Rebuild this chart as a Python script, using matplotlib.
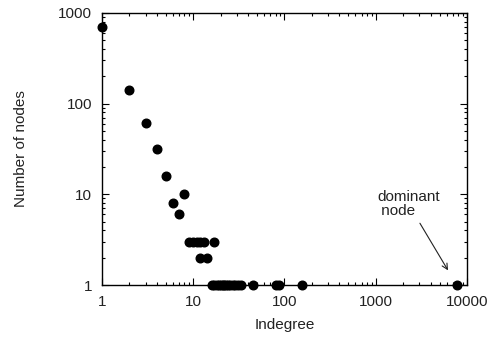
import matplotlib
matplotlib.use("Agg")
import matplotlib.pyplot as plt
from matplotlib.ticker import LogLocator, NullFormatter, FixedLocator, FixedFormatter

plt.rcParams['font.family'] = ['Liberation Sans', 'DejaVu Sans']

indegree = [1, 2, 3, 4, 5, 6, 7, 8,
            9, 10, 11, 12, 13, 17,
            12, 14,
            16, 17, 18, 19, 20, 21, 22, 23, 24, 25, 27, 29, 31, 33,
            45, 80, 86, 155, 7700]
nodes = [700, 140, 61, 32, 16, 8, 6, 10,
         3, 3, 3, 3, 3, 3,
         2, 2,
         1, 1, 1, 1, 1, 1, 1, 1, 1, 1, 1, 1, 1, 1,
         1, 1, 1, 1, 1]
x_ticks = [1, 10, 100, 1000, 10000]
y_ticks = [1, 10, 100, 1000]

fig = plt.figure(figsize=(4.97, 3.41), dpi=100)
ax = fig.add_axes([0.2052, 0.1642, 0.7344, 0.7977])
ax.plot(indegree, nodes, 'o', color='black', markersize=6.2, clip_on=False, zorder=3)
ax.set_xscale('log')
ax.set_yscale('log')
ax.set_xlim(1, 10000)
ax.set_ylim(1, 1000)
ax.xaxis.set_major_locator(FixedLocator(x_ticks))
ax.xaxis.set_major_formatter(FixedFormatter([str(v) for v in x_ticks]))
ax.yaxis.set_major_locator(FixedLocator(y_ticks))
ax.yaxis.set_major_formatter(FixedFormatter([str(v) for v in y_ticks]))
ax.xaxis.set_minor_locator(LogLocator(base=10, subs=range(2, 10)))
ax.yaxis.set_minor_locator(LogLocator(base=10, subs=range(2, 10)))
ax.xaxis.set_minor_formatter(NullFormatter())
ax.yaxis.set_minor_formatter(NullFormatter())
ax.tick_params(which='both', direction='in', top=True, right=True, labelsize=11, colors='black')
ax.tick_params(which='major', length=5, width=0.8, pad=7)
ax.tick_params(which='minor', length=2.5, width=0.8)
ax.tick_params(axis='both', labelcolor='#222222')
for s in ax.spines.values():
    s.set_linewidth(1.0)
ax.set_xlabel('Indegree', fontsize=11, color='#222222', labelpad=7)
ax.set_ylabel('Number of nodes', fontsize=11, color='#222222', labelpad=22)
ax.text(1030, 7.8, 'dominant\n node', fontsize=11, ha='left', va='center',
        color='#222222', linespacing=1.0)
ax.annotate('', xy=(6200, 1.45), xytext=(3050, 4.8),
            arrowprops=dict(arrowstyle='->', color='#222222', lw=0.8,
                            shrinkA=0, shrinkB=0))
fig.savefig('out.png', dpi=100)
